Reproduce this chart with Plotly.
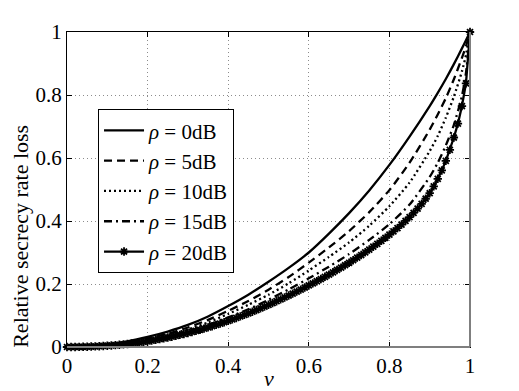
import plotly.graph_objects as go

# nu sample points for the four line-only curves
nu_lines = [0, 0.05, 0.1, 0.15, 0.2, 0.25, 0.3, 0.35, 0.4, 0.45, 0.5, 0.55, 0.6,
            0.65, 0.7, 0.75, 0.8, 0.85, 0.9, 0.92, 0.94, 0.96, 0.98, 0.99, 1.0]

loss_0db = [0, 0.002, 0.008, 0.018, 0.032, 0.049, 0.07, 0.097, 0.13, 0.166, 0.207, 0.251, 0.30,
            0.36, 0.425, 0.497, 0.578, 0.668, 0.765, 0.807, 0.851, 0.898, 0.948, 0.974, 1.0]
loss_5db = [0, 0.0015, 0.006, 0.014, 0.027, 0.042, 0.062, 0.086, 0.115, 0.146, 0.182, 0.222, 0.268,
            0.316, 0.368, 0.428, 0.498, 0.585, 0.69, 0.738, 0.79, 0.85, 0.918, 0.955, 1.0]
loss_10db = [0, 0.0012, 0.005, 0.012, 0.024, 0.038, 0.056, 0.078, 0.105, 0.134, 0.166, 0.202, 0.243,
             0.286, 0.332, 0.385, 0.447, 0.522, 0.622, 0.67, 0.728, 0.795, 0.875, 0.927, 1.0]
loss_15db = [0, 0.001, 0.0045, 0.011, 0.021, 0.034, 0.05, 0.07, 0.094, 0.12, 0.15, 0.183, 0.218,
             0.255, 0.295, 0.34, 0.39, 0.452, 0.54, 0.585, 0.64, 0.705, 0.797, 0.87, 1.0]

# 20 dB curve, one point per 0.01 (each carries a marker)
nu_20db = [i / 100 for i in range(101)]
loss_20db = [
    0.0000, 0.0000, 0.0002, 0.0004, 0.0007, 0.0010, 0.0015, 0.0020, 0.0026, 0.0033,
    0.0040, 0.0049, 0.0059, 0.0070, 0.0082, 0.0095, 0.0109, 0.0124, 0.0141, 0.0159,
    0.0180, 0.0202, 0.0225, 0.0249, 0.0274, 0.0300, 0.0327, 0.0355, 0.0384, 0.0414,
    0.0445, 0.0478, 0.0512, 0.0547, 0.0584, 0.0622, 0.0661, 0.0701, 0.0743, 0.0786,
    0.0830, 0.0876, 0.0923, 0.0971, 0.1020, 0.1070, 0.1121, 0.1174, 0.1228, 0.1283,
    0.1339, 0.1396, 0.1454, 0.1513, 0.1573, 0.1634, 0.1696, 0.1759, 0.1823, 0.1888,
    0.1954, 0.2021, 0.2089, 0.2158, 0.2228, 0.2299, 0.2371, 0.2445, 0.2520, 0.2596,
    0.2674, 0.2754, 0.2836, 0.2920, 0.3006, 0.3094, 0.3184, 0.3276, 0.3371, 0.3468,
    0.3568, 0.3670, 0.3775, 0.3885, 0.4001, 0.4124, 0.4255, 0.4395, 0.4545, 0.4707,
    0.4882, 0.5100, 0.5340, 0.5605, 0.5910, 0.6260, 0.6650, 0.7090, 0.7650, 0.8370,
    1.0000,
]

tick_vals = [0, 0.2, 0.4, 0.6, 0.8, 1]
tick_text = ["0", "0.2", "0.4", "0.6", "0.8", "1"]

serif = "Liberation Serif, Times New Roman, serif"

fig = go.Figure()

line_series = [
    (loss_0db, "<i>ρ</i> = 0dB", "solid"),
    (loss_5db, "<i>ρ</i> = 5dB", "8px,5px"),
    (loss_10db, "<i>ρ</i> = 10dB", "2px,3px"),
    (loss_15db, "<i>ρ</i> = 15dB", "8px,4px,2px,4px"),
]
for ys, name, dash in line_series:
    fig.add_trace(go.Scatter(
        x=nu_lines, y=ys, mode="lines", name=name,
        line=dict(color="black", width=2.3, dash=dash, shape="spline", smoothing=0.6),
    ))

fig.add_trace(go.Scatter(
    x=nu_20db, y=loss_20db, mode="lines+markers", name="<i>ρ</i> = 20dB",
    line=dict(color="black", width=2.3),
    marker=dict(symbol="asterisk-open", size=7, color="black", line=dict(width=1.8, color="black")),
    cliponaxis=False,
))

axis_common = dict(
    range=[0, 1], tickvals=tick_vals, ticktext=tick_text,
    showline=True, linecolor="black", linewidth=1, mirror="allticks",
    ticks="inside", ticklen=5, tickcolor="black",
    showgrid=True, gridcolor="#8c8c8c", griddash="1px,3px", gridwidth=1,
    zeroline=False, tickfont=dict(family=serif, size=21, color="black"),
)
fig.update_xaxes(**axis_common)
fig.update_yaxes(**axis_common)

# the page body adds 8px at left/top, so the figure is 8px smaller
fig.update_layout(
    width=511, height=383,
    margin=dict(l=59, r=49, t=21, b=44),
    paper_bgcolor="white", plot_bgcolor="white",
    showlegend=True,
    legend=dict(
        x=0.077, y=0.755, xanchor="left", yanchor="top",
        bgcolor="white", bordercolor="black", borderwidth=1,
        font=dict(family=serif, size=21, color="black"),
        tracegroupgap=0, itemwidth=40,
    ),
    annotations=[
        dict(text="Relative secrecy rate loss", textangle=-90, x=-0.114, y=0.35,
             xanchor="center", yanchor="middle",
             xref="paper", yref="paper", showarrow=False,
             font=dict(family=serif, size=22, color="black")),
        dict(text="<i>ν</i>", x=0.5, y=-0.1, xanchor="center", yanchor="middle",
             xref="paper", yref="paper",
             showarrow=False, font=dict(family=serif, size=22, color="black")),
    ],
    shapes=[
        # MATLAB-style grey right and bottom box edges
        dict(type="line", xref="paper", yref="paper", x0=1, x1=1, y0=0, y1=1,
             line=dict(color="#7f7f7f", width=2), layer="above"),
        dict(type="line", xref="paper", yref="paper", x0=0, x1=1, y0=0, y1=0,
             line=dict(color="#7f7f7f", width=2), layer="above"),
    ],
)

fig.write_html("out.html")
